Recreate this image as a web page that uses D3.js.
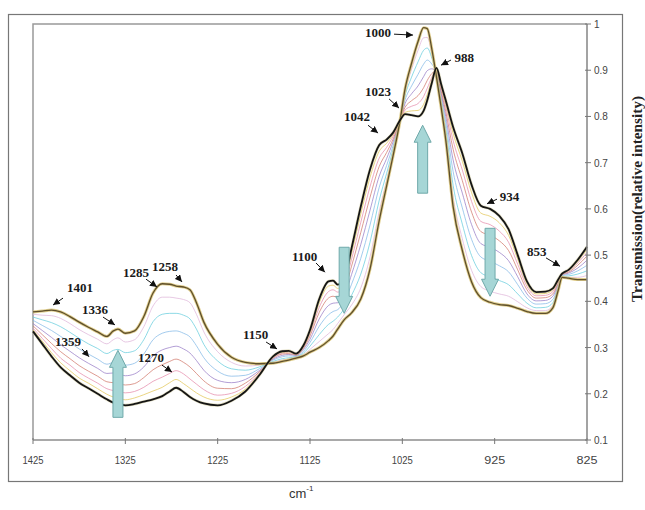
<!DOCTYPE html>
<html><head><meta charset="utf-8">
<script src="https://cdn.jsdelivr.net/npm/d3@7/dist/d3.min.js"></script>
<style>body{margin:0;background:#fff}svg{display:block}</style>
</head><body>
<svg id="c" width="645" height="510"></svg>
<script>
// ---- data ----
const wavenumbers = [1425,1415,1405,1395,1385,1375,1365,1355,1345,1338,1333,1325,1315,1305,1295,1285,1277,1270,1262,1255,1248,1240,1225,1210,1195,1180,1165,1155,1148,1140,1132,1125,1115,1105,1100,1095,1088,1080,1070,1060,1050,1042,1035,1028,1022,1015,1008,1002,998,993,988,983,978,970,960,950,940,930,920,910,900,890,880,870,862,856,852,845,835,825];

const seriesStart = [.335,.308,.281,.257,.240,.224,.212,.200,.188,.181,.178,.175,.178,.183,.188,.195,.205,.213,.204,.193,.185,.179,.175,.185,.205,.240,.281,.292,.293,.287,.305,.338,.405,.443,.445,.436,.448,.515,.605,.685,.738,.750,.765,.790,.805,.803,.800,.812,.835,.873,.905,.870,.835,.777,.720,.652,.607,.600,.585,.556,.500,.443,.420,.421,.428,.448,.460,.468,.490,.518];
const series2 = [.338,.314,.289,.267,.250,.234,.223,.211,.199,.193,.191,.187,.191,.198,.206,.214,.224,.231,.222,.212,.202,.193,.186,.193,.210,.242,.280,.290,.291,.286,.303,.334,.397,.433,.435,.428,.441,.504,.589,.668,.725,.742,.761,.790,.809,.812,.813,.826,.847,.879,.903,.866,.828,.763,.703,.635,.591,.584,.570,.543,.491,.438,.416,.417,.425,.446,.459,.467,.487,.512];
const series3 = [.342,.320,.298,.277,.262,.246,.234,.223,.211,.207,.206,.202,.205,.214,.227,.236,.244,.250,.243,.232,.221,.209,.197,.201,.216,.244,.278,.288,.290,.285,.301,.330,.387,.421,.425,.420,.433,.491,.571,.648,.710,.733,.757,.789,.814,.822,.828,.843,.861,.885,.902,.862,.821,.748,.684,.616,.573,.566,.552,.528,.480,.432,.412,.413,.421,.444,.459,.465,.483,.506];
const series4 = [.347,.328,.309,.291,.276,.261,.249,.238,.226,.224,.223,.219,.222,.235,.252,.263,.270,.275,.268,.258,.244,.228,.212,.211,.223,.247,.277,.286,.287,.284,.299,.325,.376,.407,.411,.409,.423,.476,.549,.625,.692,.722,.751,.789,.820,.834,.845,.862,.878,.893,.899,.856,.811,.729,.661,.593,.551,.543,.531,.510,.468,.425,.407,.408,.416,.442,.458,.463,.478,.498];
const series5 = [.352,.337,.322,.306,.292,.278,.266,.255,.244,.245,.244,.239,.243,.258,.282,.295,.300,.303,.297,.288,.272,.251,.229,.224,.231,.250,.275,.283,.285,.283,.296,.318,.362,.391,.396,.397,.412,.458,.523,.597,.671,.709,.745,.788,.828,.849,.866,.886,.899,.903,.897,.850,.800,.706,.634,.566,.525,.517,.506,.488,.453,.416,.401,.402,.411,.439,.457,.461,.472,.489];
const series6 = [.359,.348,.337,.324,.311,.297,.286,.275,.264,.268,.269,.262,.266,.286,.317,.331,.335,.336,.331,.323,.304,.278,.249,.238,.240,.254,.273,.280,.282,.281,.292,.311,.346,.371,.378,.382,.399,.437,.493,.565,.647,.694,.737,.787,.836,.866,.891,.913,.922,.913,.894,.842,.787,.681,.602,.534,.496,.487,.477,.464,.436,.407,.394,.395,.404,.435,.456,.458,.466,.478];
const series7 = [.366,.360,.354,.345,.333,.320,.308,.298,.287,.294,.296,.289,.293,.317,.356,.372,.374,.374,.370,.362,.340,.307,.271,.254,.251,.258,.270,.276,.278,.280,.288,.303,.328,.350,.357,.366,.384,.413,.459,.528,.619,.677,.729,.786,.845,.885,.918,.943,.948,.926,.890,.834,.773,.651,.567,.499,.462,.453,.445,.436,.416,.396,.386,.387,.397,.431,.454,.455,.459,.466];
const series8 = [.372,.370,.369,.363,.352,.339,.328,.318,.308,.317,.321,.312,.317,.345,.390,.409,.409,.407,.404,.397,.372,.334,.291,.268,.260,.262,.268,.273,.275,.278,.285,.296,.313,.330,.339,.352,.371,.392,.429,.496,.595,.662,.721,.786,.853,.902,.943,.970,.971,.936,.887,.826,.760,.626,.535,.467,.432,.422,.416,.411,.399,.386,.380,.380,.391,.428,.453,.452,.452,.456];
const seriesEnd = [.377,.379,.381,.377,.367,.355,.344,.334,.324,.336,.340,.331,.336,.367,.418,.438,.437,.433,.431,.425,.397,.355,.307,.279,.268,.265,.266,.270,.273,.277,.282,.290,.300,.315,.325,.340,.360,.375,.405,.470,.575,.650,.715,.785,.860,.915,.962,.992,.990,.945,.885,.820,.750,.605,.510,.442,.408,.398,.393,.391,.385,.378,.374,.374,.386,.425,.452,.450,.447,.447];

const xTicks = [1425,1325,1225,1125,1025,925,825];
const yTicks = [0.1,0.2,0.3,0.4,0.5,0.6,0.7,0.8,0.9,1];
const yTickLabels = ["0.1","0.2","0.3","0.4","0.5","0.6","0.7","0.8","0.9","1"];

// peak annotations: label, text anchor [wn, value], arrow tail, arrow tip
const peakLabels = ["1401","1336","1359","1285","1258","1270","1150","1100","1042","1023","1000","988","934","853"];
const peakTextPos = [[1388.2,0.420],[1371.9,0.373],[1401.2,0.303],[1327.5,0.453],[1296.1,0.466],[1311.3,0.269],[1197.6,0.319],[1144.5,0.487],[1088.2,0.790],[1065.4,0.844],[1065.4,0.972],[968.5,0.918],[919.5,0.617],[890.0,0.498]];
const peakArrowTail = [[1392.5,0.407],[1349.2,0.366],[1371.9,0.297],[1302.6,0.448],[1270.1,0.457],[1285.3,0.262],[1172.6,0.312],[1118.5,0.483],[1062.2,0.781],[1039.4,0.838],[1034.0,0.978],[972.3,0.922],[922.5,0.621],[869.4,0.494]];
const peakArrowTip = [[1403.3,0.392],[1336.2,0.349],[1364.3,0.280],[1290.7,0.431],[1263.6,0.442],[1274.5,0.247],[1160.7,0.297],[1108.8,0.463],[1051.3,0.764],[1028.6,0.818],[1013.4,0.976],[983.1,0.911],[933.3,0.611],[854.2,0.476]];

// big trend arrows: wavenumber, from value, to value (tip)
const trendX = [1333,1088,1003,930];
const trendFrom = [0.149,0.517,0.634,0.558];
const trendTo = [0.294,0.374,0.781,0.411];

// ---- drawing ----
const svg = d3.select("#c");
const L = 33, R = 587, T = 24, B = 440;
const x = d3.scaleLinear().domain([1425,825]).range([L,R]);
const y = d3.scaleLinear().domain([0.1,1]).range([B,T]);

// outer frame
svg.append("rect").attr("x",8.5).attr("y",14.5).attr("width",614).attr("height",467)
  .attr("fill","none").attr("stroke","#777").attr("stroke-width",1.2);
// plot frame left + top
svg.append("path").attr("d",`M${L},${B}V${T}H${R}`).attr("fill","none")
  .attr("stroke","#999").attr("stroke-width",1.5);

const line = d3.line().x((d,i)=>x(wavenumbers[i])).y(d=>y(d)).curve(d3.curveMonotoneX);

const mids = [
  {d:series8,c:"#deb2d8"},
  {d:series7,c:"#62cbdc"},
  {d:series6,c:"#7fb6e6"},
  {d:series5,c:"#9478c4"},
  {d:series4,c:"#cf7466"},
  {d:series3,c:"#e588a8"},
  {d:series2,c:"#e2c452"}
];
const g = svg.append("g");
mids.forEach(s=>g.append("path").attr("d",line(s.d)).attr("fill","none")
  .attr("stroke",s.c).attr("stroke-width",0.85).attr("opacity",0.85));
g.append("path").attr("d",line(seriesEnd)).attr("fill","none").attr("stroke","#d8c270").attr("stroke-width",3).attr("opacity",0.8);
g.append("path").attr("d",line(seriesEnd)).attr("fill","none").attr("stroke","#5e4f2c").attr("stroke-width",1.3);
g.append("path").attr("d",line(seriesStart)).attr("fill","none").attr("stroke","#c9c28a").attr("stroke-width",3).attr("opacity",0.5);
g.append("path").attr("d",line(seriesStart)).attr("fill","none").attr("stroke","#151515").attr("stroke-width",1.8);

// axes
const xAxis = svg.append("g");
xAxis.append("line").attr("x1",L).attr("x2",R).attr("y1",B).attr("y2",B).attr("stroke","#8c8c8c").attr("stroke-width",1.6);
xTicks.forEach(t=>{
  xAxis.append("line").attr("x1",x(t)).attr("x2",x(t)).attr("y1",B-2).attr("y2",B+4).attr("stroke","#777").attr("stroke-width",1);
  xAxis.append("text").attr("x",x(t)).attr("y",B+24).attr("text-anchor","middle")
    .attr("font-family","Liberation Sans, Arial, sans-serif").attr("font-size",10).attr("fill","#444")
    .attr("textLength",21).attr("lengthAdjust","spacingAndGlyphs").text(t);
});
const yAxis = svg.append("g");
yAxis.append("line").attr("x1",R).attr("x2",R).attr("y1",T).attr("y2",B).attr("stroke","#8c8c8c").attr("stroke-width",1.6);
yTicks.forEach((t,i)=>{
  yAxis.append("line").attr("x1",R-2).attr("x2",R+4).attr("y1",y(t)).attr("y2",y(t)).attr("stroke","#777").attr("stroke-width",1);
  yAxis.append("text").attr("x",R+7).attr("y",y(t)+4).attr("font-family","Liberation Sans, Arial, sans-serif")
    .attr("font-size",10).attr("fill","#444").text(yTickLabels[i]);
});

// axis titles
svg.append("text").attr("transform","translate(642,199) rotate(-90)").attr("text-anchor","middle")
  .attr("font-family","Liberation Serif, Times New Roman, serif").attr("font-weight","bold")
  .attr("font-size",14.5).attr("fill","#222").attr("textLength",206).attr("lengthAdjust","spacingAndGlyphs")
  .text("Transmission(relative intensity)");
const xt = svg.append("text").attr("x",289).attr("y",498).attr("font-family","Liberation Sans, Arial, sans-serif")
  .attr("font-size",13).attr("fill","#333");
xt.append("tspan").text("cm");
xt.append("tspan").attr("dy",-7).attr("font-size",8).text("-1");

// big trend arrows
const ta = svg.append("g");
trendX.forEach((w,i)=>{
  const cx = x(w), y0 = y(trendFrom[i]), y1 = y(trendTo[i]);
  const dir = y1 < y0 ? -1 : 1; // -1 up
  const hb = y1 - dir*17;
  const p = `M${cx-5},${y0}L${cx-5},${hb}L${cx-8.5},${hb}L${cx},${y1}L${cx+8.5},${hb}L${cx+5},${hb}L${cx+5},${y0}Z`;
  ta.append("path").attr("d",p).attr("fill","#a6d6d6").attr("stroke","#6fa9aa").attr("stroke-width",1);
});

// peak labels
svg.append("defs").append("marker").attr("id","ah").attr("viewBox","0 0 10 10").attr("refX",10).attr("refY",5)
  .attr("markerWidth",7).attr("markerHeight",7).attr("markerUnits","userSpaceOnUse").attr("orient","auto")
  .append("path").attr("d","M0,0L10,5L0,10Z").attr("fill","#111");
const pl = svg.append("g");
peakLabels.forEach((lab,i)=>{
  const [tw,tv] = peakTextPos[i];
  if(lab==="1000"){
    pl.append("rect").attr("x",x(tw)-10).attr("y",y(tv)-11).attr("width",52).attr("height",14).attr("fill","#fff");
  }
  pl.append("line").attr("x1",x(peakArrowTail[i][0])).attr("y1",y(peakArrowTail[i][1]))
    .attr("x2",x(peakArrowTip[i][0])).attr("y2",y(peakArrowTip[i][1]))
    .attr("stroke","#111").attr("stroke-width",1).attr("marker-end","url(#ah)");
  pl.append("text").attr("x",x(tw)).attr("y",y(tv)).attr("font-family","Liberation Serif, Times New Roman, serif")
    .attr("font-weight","bold").attr("font-size",13).attr("fill","#1a1a1a").text(lab);
});
</script>
</body></html>
